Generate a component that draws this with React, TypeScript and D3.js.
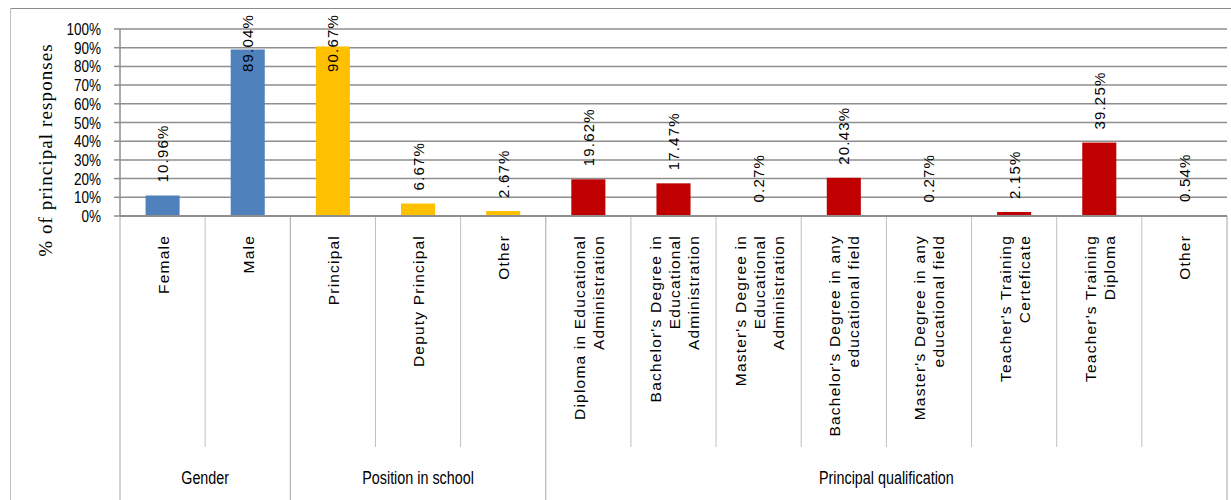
import React from "react";
import * as d3 from "d3";

// one entry per bar; "|" splits the axis label into lines
const categories = [
  "Female",
  "Male",
  "Principal",
  "Deputy Principal",
  "Other",
  "Diploma in Educational|Administration",
  "Bachelor's Degree in|Educational|Administration",
  "Master's Degree in|Educational|Administration",
  "Bachelor's Degree in any|educational field",
  "Master's Degree in any|educational field",
  "Teacher's Training|Certeficate",
  "Teacher's Training|Diploma",
  "Other",
];
const values = [10.96, 89.04, 90.67, 6.67, 2.67, 19.62, 17.47, 0.27, 20.43, 0.27, 2.15, 39.25, 0.54];
const groupNames = ["Gender", "Position in school", "Principal qualification"];
const groupSizes = [2, 3, 8];
const groupColors = ["#4f81bd", "#ffc000", "#c00000"];
const yTicks = [0, 10, 20, 30, 40, 50, 60, 70, 80, 90, 100];

const W = 1231;
const H = 500;
const left = 120;
const right = 1227;
const top = 29;
const bottom = 216;

// no narrow font installed, so squeeze Liberation Sans horizontally
const sans = "'Liberation Sans', Arial, sans-serif";
const squeeze = 0.82;

export default function App() {
  const x = d3
    .scaleBand()
    .domain(d3.range(categories.length).map(String))
    .range([left, right])
    .paddingInner(0)
    .paddingOuter(0);
  const y = d3.scaleLinear().domain([0, 100]).range([bottom, top]);
  const bw = x.bandwidth();
  const barW = bw * 0.4;

  // group index for each bar
  const groupOf: number[] = [];
  groupSizes.forEach((n, g) => {
    for (let i = 0; i < n; i++) groupOf.push(g);
  });
  const groupStarts = groupSizes.map((_, g) => d3.sum(groupSizes.slice(0, g)));

  return (
    <svg
      width={W}
      height={H}
      style={{ position: "absolute", left: 0, top: 0, display: "block", background: "#fff" }}
    >
      {/* chart frame */}
      <line x1={10.5} x2={W} y1={8.5} y2={8.5} stroke="#8c8c8c" strokeWidth={1} />
      <line x1={10.5} x2={10.5} y1={8.5} y2={H} stroke="#bfbfbf" strokeWidth={1} />

      {/* gridlines */}
      {yTicks.map((t) => (
        <g key={t}>
          <line x1={left} x2={right} y1={y(t)} y2={y(t)} stroke="#8e8e8e" strokeWidth={1.5} />
          <line x1={left - 6} x2={left} y1={y(t)} y2={y(t)} stroke="#8e8e8e" strokeWidth={1.5} />
          <text
            transform={`translate(101,${y(t)}) scale(${squeeze},1)`}
            textAnchor="end"
            dominantBaseline="central"
            fontFamily={sans}
            fontSize={16.5}
            fill="#000"
          >
            {t}%
          </text>
        </g>
      ))}

      {/* y axis title */}
      <text
        transform={`translate(45,${150}) rotate(-90)`}
        textAnchor="middle"
        dominantBaseline="central"
        fontFamily="'Liberation Serif', 'Times New Roman', serif"
        fontSize={19}
        letterSpacing={1.1}
        fill="#000"
      >
        % of principal responses
      </text>

      {/* bars */}
      {values.map((v, i) => (
        <rect
          key={i}
          x={(x(String(i)) as number) + (bw - barW) / 2}
          y={y(v)}
          width={barW}
          height={bottom - y(v)}
          fill={groupColors[groupOf[i]]}
        />
      ))}

      {/* category separators */}
      {d3.range(categories.length + 1).map((i) => {
        const xx = left + i * bw;
        const isGroupEdge = i === 0 || i === categories.length || groupStarts.includes(i);
        return (
          <line
            key={i}
            x1={xx}
            x2={xx}
            y1={bottom}
            y2={isGroupEdge ? H : 447}
            stroke={isGroupEdge ? "#a6a6a6" : "#bfbfbf"}
            strokeWidth={1}
          />
        );
      })}
      <line x1={left} x2={right} y1={bottom} y2={bottom} stroke="#8e8e8e" strokeWidth={2} />
      <line x1={left} x2={left} y1={top} y2={bottom} stroke="#8e8e8e" strokeWidth={1.5} />

      {/* data labels */}
      {values.map((v, i) => {
        const cx = (x(String(i)) as number) + bw / 2;
        const ly = Math.max(y(v) - 13, 72);
        return (
          <text
            key={i}
            transform={`translate(${cx},${ly}) rotate(-90)`}
            textAnchor="start"
            dominantBaseline="central"
            fontFamily={sans}
            fontSize={15}
            letterSpacing={1.2}
            fill="#000"
          >
            {v.toFixed(2)}%
          </text>
        );
      })}

      {/* category labels */}
      {categories.map((c, i) => {
        const cx = (x(String(i)) as number) + bw / 2;
        const lines = c.split("|");
        const lh = 19;
        return (
          <text
            key={i}
            transform={`translate(${cx},235) rotate(-90)`}
            textAnchor="end"
            dominantBaseline="central"
            fontFamily={sans}
            fontSize={15.5}
            letterSpacing={1.2}
            fill="#000"
          >
            {lines.map((l, k) => (
              <tspan key={k} x={0} y={(k - (lines.length - 1) / 2) * lh}>
                {l}
              </tspan>
            ))}
          </text>
        );
      })}

      {/* group labels */}
      {groupNames.map((g, gi) => {
        const x0 = left + groupStarts[gi] * bw;
        const x1 = x0 + groupSizes[gi] * bw;
        return (
          <text
            key={g}
            transform={`translate(${(x0 + x1) / 2},484) scale(${squeeze},1)`}
            textAnchor="middle"
            fontFamily={sans}
            fontSize={17.5}
            fill="#000"
          >
            {g}
          </text>
        );
      })}
    </svg>
  );
}
